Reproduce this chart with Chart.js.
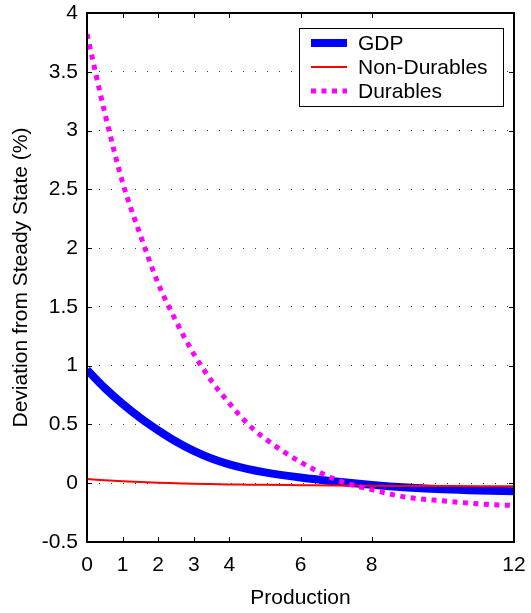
<!DOCTYPE html>
<html>
<head>
<meta charset="utf-8">
<script src="https://cdn.jsdelivr.net/npm/chart.js@4.4.0/dist/chart.umd.min.js"></script>
<style>
html, body { margin: 0; padding: 0; background: #fff; }
</style>
</head>
<body>
<canvas id="irf" width="531" height="613"></canvas>
<script>
// values
var periods     = [0, 0.5, 1, 1.5, 2, 2.5, 3, 3.5, 4, 4.5, 5, 6, 7, 8, 9, 10, 11, 12];
var gdp         = [0.965, 0.81, 0.675, 0.555, 0.45, 0.355, 0.275, 0.21, 0.16, 0.122, 0.092, 0.048, 0.014, -0.014, -0.036, -0.052, -0.062, -0.068];
var nonDurables = [0.035, 0.025, 0.017, 0.01, 0.004, 0.0, -0.004, -0.007, -0.01, -0.012, -0.014, -0.017, -0.02, -0.022, -0.023, -0.024, -0.025, -0.025];
var durables    = [3.82, 3.15, 2.56, 2.11, 1.70, 1.38, 1.10, 0.87, 0.68, 0.51, 0.38, 0.18, 0.03, -0.055, -0.12, -0.15, -0.175, -0.19];
var xTicks = [0, 1, 2, 3, 4, 6, 8, 12];
var yTicks = [-0.5, 0, 0.5, 1, 1.5, 2, 2.5, 3, 3.5, 4];

function toPoints(ys) {
    return periods.map(function(x, i) { return { x: x, y: ys[i] }; });
}

Chart.defaults.font.family = "'Liberation Sans', Arial, sans-serif";
Chart.defaults.font.size = 21;
Chart.defaults.color = '#000';

// box, inward tick marks and the legend, drawn like the matlab figure
var framePlugin = {
    id: 'frame',
    afterDatasetsDraw: function(chart) {
        var ctx = chart.ctx, a = chart.chartArea;
        var xs = chart.scales.x, ys = chart.scales.y;
        ctx.save();
        ctx.strokeStyle = '#000';
        ctx.lineWidth = 1;
        ctx.beginPath();
        xTicks.forEach(function(v) {
            var px = Math.round(xs.getPixelForValue(v)) + 0.5;
            ctx.moveTo(px, a.bottom); ctx.lineTo(px, a.bottom - 5);
            ctx.moveTo(px, a.top); ctx.lineTo(px, a.top + 5);
        });
        yTicks.forEach(function(v) {
            var py = Math.round(ys.getPixelForValue(v)) + 0.5;
            ctx.moveTo(a.left, py); ctx.lineTo(a.left + 5, py);
            ctx.moveTo(a.right, py); ctx.lineTo(a.right - 5, py);
        });
        ctx.stroke();
        ctx.lineWidth = 2;
        ctx.strokeRect(a.left, a.top, a.right - a.left, a.bottom - a.top);

        // legend
        var bx = a.right - 215, by = a.top + 15, bw = 204, bh = 78;
        ctx.fillStyle = '#fff';
        ctx.fillRect(bx, by, bw, bh);
        ctx.lineWidth = 1;
        ctx.strokeRect(bx + 0.5, by + 0.5, bw, bh);
        ctx.font = "21px 'Liberation Sans', Arial, sans-serif";
        ctx.textBaseline = 'middle';
        ctx.textAlign = 'left';
        chart.data.datasets.forEach(function(ds, i) {
            var ry = by + 15 + i * 24;
            ctx.strokeStyle = ds.borderColor;
            ctx.lineWidth = ds.borderWidth;
            ctx.setLineDash(ds.borderDash || []);
            ctx.beginPath();
            ctx.moveTo(bx + 12, ry);
            ctx.lineTo(bx + 48, ry);
            ctx.stroke();
            ctx.setLineDash([]);
            ctx.fillStyle = '#000';
            ctx.fillText(ds.label, bx + 59, ry + 1);
        });
        ctx.restore();
    }
};

new Chart(document.getElementById('irf'), {
    type: 'line',
    data: {
        datasets: [
            {
                label: 'GDP',
                data: toPoints(gdp),
                borderColor: '#0000ff',
                borderWidth: 8,
                pointRadius: 0,
                cubicInterpolationMode: 'monotone',
                order: 3
            },
            {
                label: 'Non-Durables',
                data: toPoints(nonDurables),
                borderColor: '#ff0000',
                borderWidth: 2,
                pointRadius: 0,
                cubicInterpolationMode: 'monotone',
                order: 2
            },
            {
                label: 'Durables',
                data: toPoints(durables),
                borderColor: '#ff00ff',
                borderWidth: 5,
                borderDash: [5, 5.5],
                borderCapStyle: 'butt',
                pointRadius: 0,
                cubicInterpolationMode: 'monotone',
                order: 1
            }
        ]
    },
    options: {
        responsive: false,
        animation: false,
        layout: { padding: 0 },
        plugins: {
            legend: { display: false },
            tooltip: { enabled: false }
        },
        scales: {
            x: {
                type: 'linear',
                min: 0,
                max: 12,
                afterBuildTicks: function(scale) {
                    scale.ticks = xTicks.map(function(v) { return { value: v }; });
                },
                afterFit: function(scale) {
                    scale.height = 71;
                    scale.paddingLeft = 0;
                    scale.paddingRight = 17;
                },
                grid: { display: false },
                border: { display: false },
                ticks: { padding: 3, maxRotation: 0, autoSkip: false },
                title: { display: true, text: 'Production', padding: { top: 2, bottom: 2 } }
            },
            y: {
                min: -0.5,
                max: 4,
                afterBuildTicks: function(scale) {
                    scale.ticks = yTicks.map(function(v) { return { value: v }; });
                },
                afterFit: function(scale) {
                    scale.width = 87;
                    scale.paddingTop = 13;
                    scale.paddingBottom = 0;
                },
                grid: {
                    color: 'rgba(0,0,0,0.75)',
                    lineWidth: 1,
                    drawTicks: false
                },
                border: { display: false, dash: [1, 11] },
                ticks: {
                    padding: 9,
                    callback: function(v) { return String(v); }
                },
                title: { display: true, text: 'Deviation from Steady State (%)', padding: { top: 9, bottom: 2 } }
            }
        }
    },
    plugins: [framePlugin]
});
</script>
</body>
</html>
